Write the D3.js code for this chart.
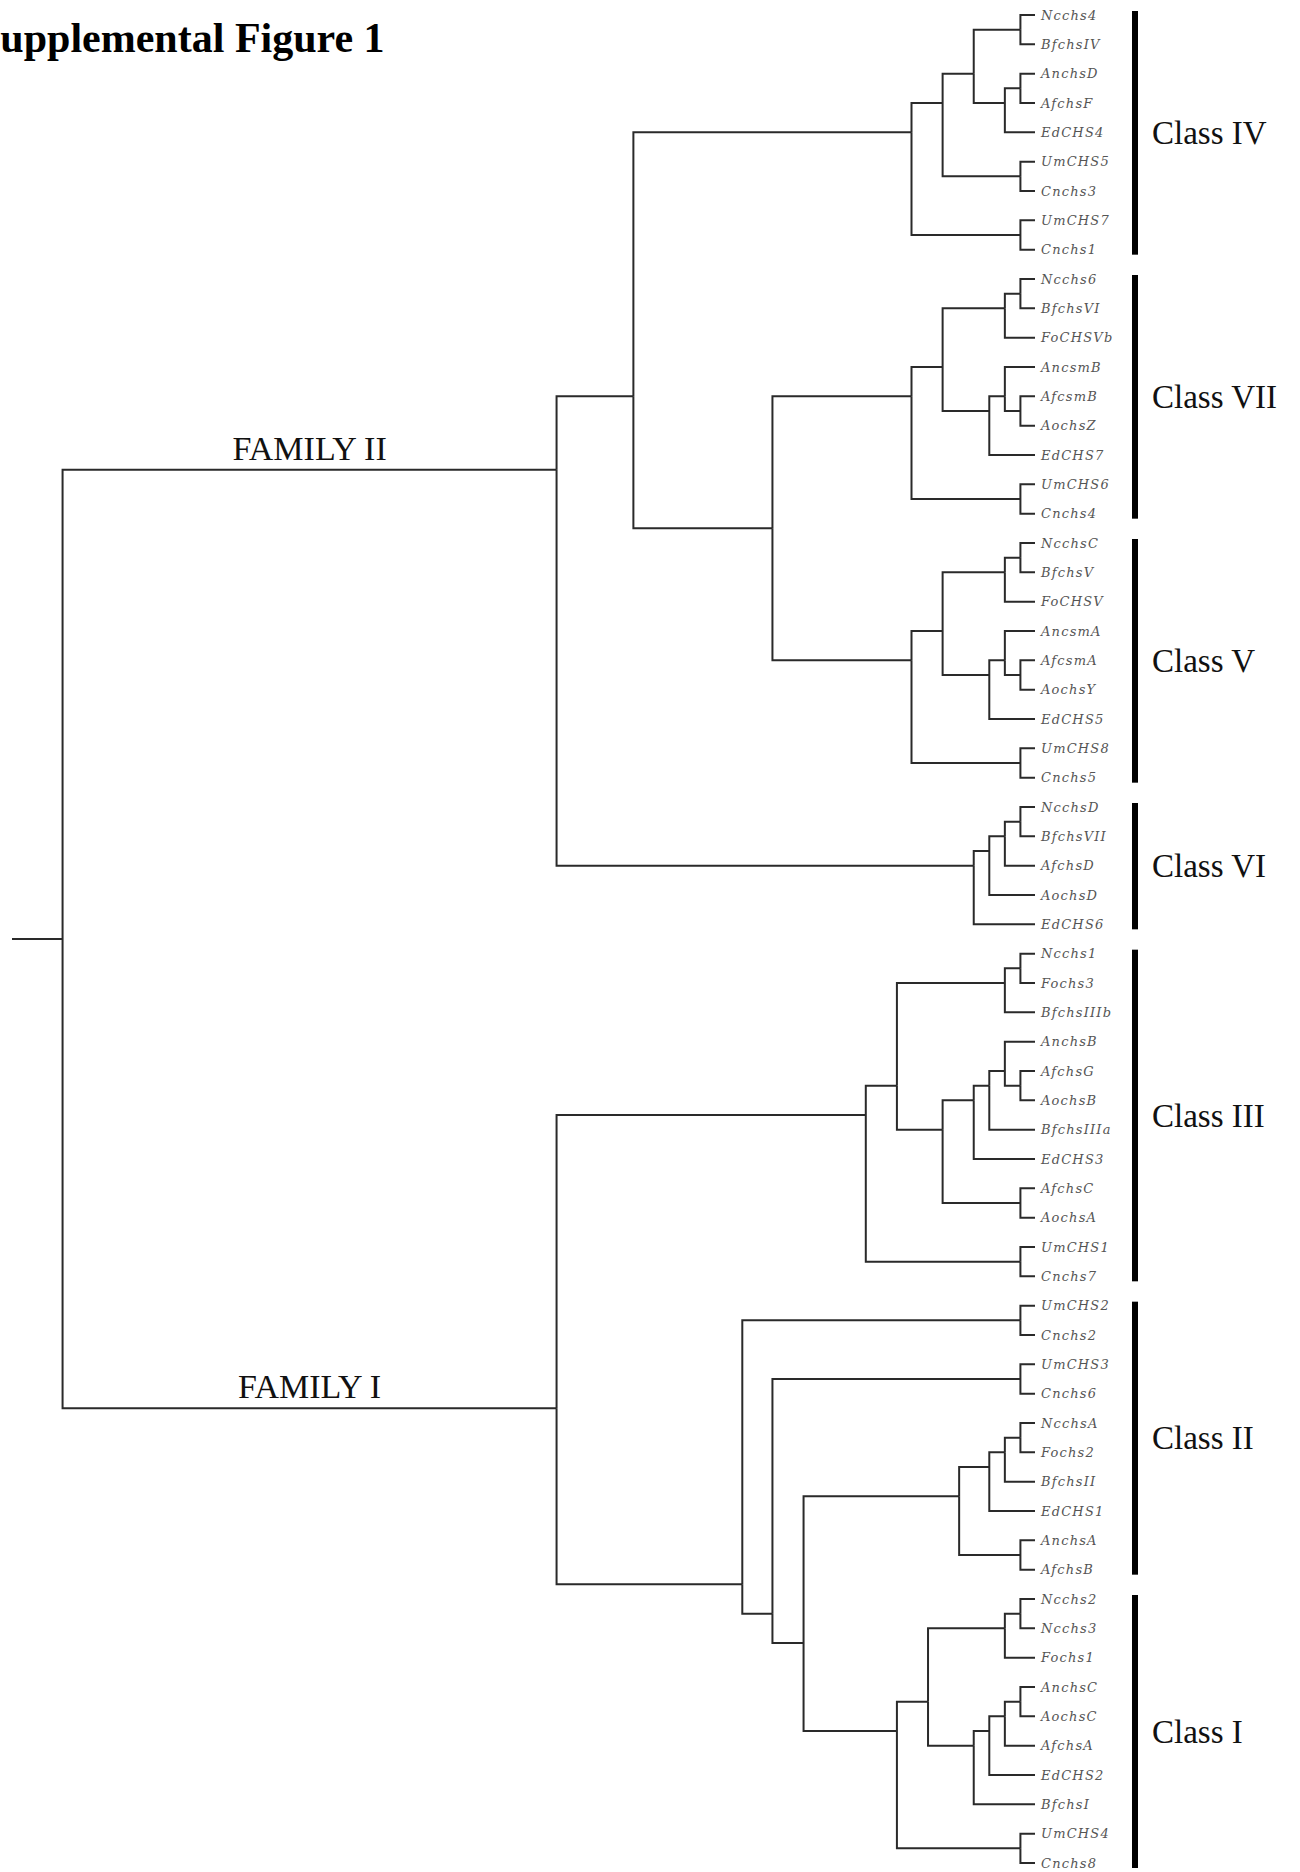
<!DOCTYPE html>
<html>
<head>
<meta charset="utf-8">
<script src="https://cdn.jsdelivr.net/npm/d3@7"></script>
<style>
  body { margin: 0; background: #fff; }
  svg { display: block; }
</style>
</head>
<body>
<div id="tree"></div>
<script>
// clade topologies, internal node label = distance from root (tips = 100)
const cladeIV = "((((Ncchs4,BfchsIV)98.5,((AnchsD,AfchsF)98.5,EdCHS4)96.9)93.7,(UmCHS5,Cnchs3)98.5)90.5,(UmCHS7,Cnchs1)98.5)87.3";
const cladeVII = "((((Ncchs6,BfchsVI)98.5,FoCHSVb)96.9,((AncsmB,(AfcsmB,AochsZ)98.5)96.9,EdCHS7)95.3)90.5,(UmCHS6,Cnchs4)98.5)87.3";
const cladeV = "((((NcchsC,BfchsV)98.5,FoCHSV)96.9,((AncsmA,(AfcsmA,AochsY)98.5)96.9,EdCHS5)95.3)90.5,(UmCHS8,Cnchs5)98.5)87.3";
const cladeVI = "((((NcchsD,BfchsVII)98.5,AfchsD)96.9,AochsD)95.3,EdCHS6)93.7";
const cladeIII = "((((Ncchs1,Fochs3)98.5,BfchsIIIb)96.9,((((AnchsB,(AfchsG,AochsB)98.5)96.9,BfchsIIIa)95.3,EdCHS3)93.7,(AfchsC,AochsA)98.5)90.5)85.8,(UmCHS1,Cnchs7)98.5)82.6";
const cladeIIcore = "((((NcchsA,Fochs2)98.5,BfchsII)96.9,EdCHS1)95.3,(AnchsA,AfchsB)98.5)92.2";
const cladeI = "((((Ncchs2,Ncchs3)98.5,Fochs1)96.9,((((AnchsC,AochsC)98.5,AfchsA)96.9,EdCHS2)95.3,BfchsI)93.7)89.0,(UmCHS4,Cnchs8)98.5)85.8";

const familyII = `((${cladeIV},(${cladeVII},${cladeV})73.0)58.7,${cladeVI})50.8`;
const familyI = `(${cladeIII},((UmCHS2,Cnchs2)98.5,((UmCHS3,Cnchs6)98.5,(${cladeIIcore},${cladeI})76.2)73.0)69.9)50.8`;
const newick = `(${familyII},${familyI})0`;

const tipDepth = 100;
const rootBranch = 5.2;

const familyNames = ["FAMILY II", "FAMILY I"];
const classNames = ["Class IV", "Class VII", "Class V", "Class VI", "Class III", "Class II", "Class I"];
const classFirst = ["Ncchs4", "Ncchs6", "NcchsC", "NcchsD", "Ncchs1", "UmCHS2", "Ncchs2"];
const classLast = ["Cnchs1", "Cnchs4", "Cnchs5", "EdCHS6", "Cnchs7", "AfchsB", "Cnchs8"];

function parseNewick(str) {
  const s = str.replace(/\s+/g, "");
  let i = 0;
  function node() {
    const n = {};
    if (s[i] === "(") {
      i++;
      n.children = [node()];
      while (s[i] === ",") { i++; n.children.push(node()); }
      i++;
    }
    let tok = "";
    while (i < s.length && !",()".includes(s[i])) tok += s[i++];
    if (n.children) n.dist = +tok; else { n.name = tok; n.dist = tipDepth; }
    return n;
  }
  return node();
}

const W = 1300, H = 1872;
const svg = d3.select("#tree").append("svg").attr("width", W).attr("height", H);

const root = d3.hierarchy(parseNewick(newick));
const leaves = root.leaves();

const x = d3.scaleLinear().domain([-rootBranch, tipDepth]).range([12, 1035]);
const y = d3.scalePoint().domain(leaves.map(d => d.data.name)).range([15, 1863]);

// node y = mean of its leaves
root.eachAfter(d => {
  d.px = x(d.data.dist);
  d.py = d.children ? d3.mean(d.leaves(), l => y(l.data.name)) : y(d.data.name);
});

const g = svg.append("g");

g.selectAll("path.link")
  .data(root.links())
  .join("path")
  .attr("class", "link")
  .attr("d", l => `M${l.source.px},${l.source.py}V${l.target.py}H${l.target.px}`)
  .attr("fill", "none")
  .attr("stroke", "#2a2a2a")
  .attr("stroke-width", 2);

// root stub
g.append("line")
  .attr("x1", x(-rootBranch)).attr("x2", root.px)
  .attr("y1", root.py).attr("y2", root.py)
  .attr("stroke", "#2a2a2a")
  .attr("stroke-width", 2);

// leaf labels
g.selectAll("text.leaf")
  .data(leaves)
  .join("text")
  .attr("class", "leaf")
  .attr("x", d => d.px + 6)
  .attr("y", d => d.py)
  .attr("dy", "0.36em")
  .attr("font-family", "DejaVu Serif")
  .attr("font-style", "italic")
  .attr("font-size", 13)
  .attr("letter-spacing", 1.2)
  .attr("fill", "#555")
  .text(d => d.data.name);

// family labels
g.selectAll("text.family")
  .data(root.children)
  .join("text")
  .attr("class", "family")
  .attr("x", d => (root.px + d.px) / 2)
  .attr("y", d => d.py - 10)
  .attr("text-anchor", "middle")
  .attr("font-family", "Liberation Serif")
  .attr("font-size", 34)
  .attr("fill", "#111")
  .text((d, i) => familyNames[i]);

// class bars and labels
const classes = classNames.map((name, i) => ({ name, y0: y(classFirst[i]), y1: y(classLast[i]) }));

g.selectAll("rect.bar")
  .data(classes)
  .join("rect")
  .attr("class", "bar")
  .attr("x", 1132)
  .attr("width", 6)
  .attr("y", d => d.y0 - 4)
  .attr("height", d => d.y1 - d.y0 + 9)
  .attr("fill", "#000");

g.selectAll("text.cls")
  .data(classes)
  .join("text")
  .attr("class", "cls")
  .attr("x", 1152)
  .attr("y", d => (d.y0 + d.y1) / 2)
  .attr("dy", "0.35em")
  .attr("font-family", "Liberation Serif")
  .attr("font-size", 33)
  .attr("fill", "#111")
  .text(d => d.name);

svg.append("text")
  .attr("x", -23)
  .attr("y", 52)
  .attr("font-family", "Liberation Serif")
  .attr("font-weight", "bold")
  .attr("font-size", 42)
  .attr("fill", "#000")
  .text("Supplemental Figure 1");
</script>
</body>
</html>
